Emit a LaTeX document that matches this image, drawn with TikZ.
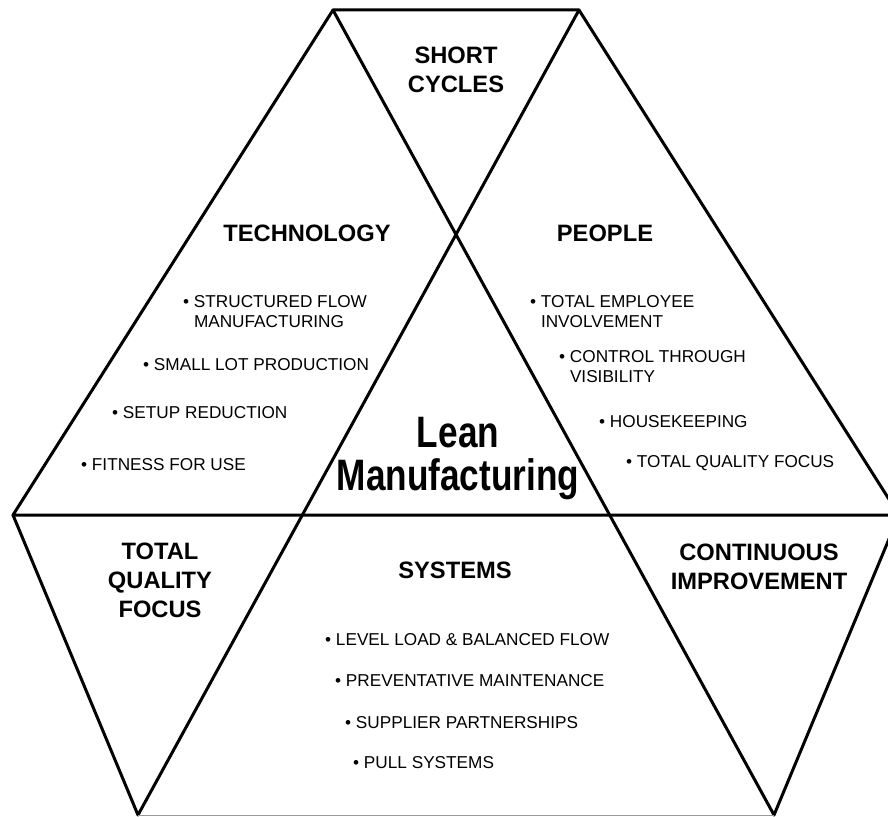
\documentclass[tikz,border=0pt]{standalone}
\usepackage{fontspec}
\setmainfont{Liberation Sans}
\newfontfamily\leanfont[FakeStretch=0.8]{Liberation Sans Bold}
\newcommand{\itm}{\textbullet\ }
\newcommand{\ind}{\phantom{\textbullet\ }}
\tikzset{
	frameline/.style={line width=3pt, line cap=round, line join=round},
	heading/.style={font=\fontsize{23.7}{29}\selectfont\bfseries, align=center, inner sep=0},
	item/.style={font=\fontsize{17.2}{20}\selectfont, align=left, anchor=west, inner sep=0},
	bigtitle/.style={font=\fontsize{44}{43}\selectfont\leanfont, anchor=base, inner sep=0}
}

\begin{document}
\begin{tikzpicture}[x=1pt, y=-1pt]
			%%%%% START %%%%%
			\useasboundingbox (0, 0) rectangle (888, 816);
			\clip (0, 0) rectangle (888, 816);
			
			\coordinate (topl) at (333, 10);
			\coordinate (topr) at (579, 10);
			\coordinate (left) at (13, 515);
			\coordinate (right) at (899, 515);
			\coordinate (botl) at (138, 815);
			\coordinate (botr) at (774, 815);
			
			\draw[frameline] (topl) -- (topr) -- (right) -- (left) -- cycle;
			\draw[frameline] (topl) -- (botr);
			\draw[frameline] (topr) -- (botl);
			\draw[frameline] (left) -- (botl);
			\draw[frameline] (right) -- (botr);
			\draw[line width=1pt, color=black!40] (botl) -- (botr);
			
			\node[heading] (short) at (456, 70) {SHORT\\CYCLES};
			\node[heading] (technology) at (307, 233) {TECHNOLOGY};
			\node[heading] (people) at (605, 233) {PEOPLE};
			\node[heading] (tqf) at (160, 580) {TOTAL\\QUALITY\\FOCUS};
			\node[heading] (systems) at (455, 570) {SYSTEMS};
			\node[heading] (ci) at (759, 567) {CONTINUOUS\\IMPROVEMENT};
			
			\node[bigtitle] (lean) at (458, 447) {Lean};
			\node[bigtitle] (manuf) at (458, 490) {Manufacturing};
			
			% technology
			\node[item] (flow) at (183, 312) {\itm STRUCTURED FLOW\\\ind MANUFACTURING};
			\node[item] (lot) at (143, 365) {\itm SMALL LOT PRODUCTION};
			\node[item] (setup) at (112, 413) {\itm SETUP REDUCTION};
			\node[item] (fitness) at (81, 465) {\itm FITNESS FOR USE};
			
			% people
			\node[item] (employee) at (530, 312) {\itm TOTAL EMPLOYEE\\\ind INVOLVEMENT};
			\node[item] (control) at (559, 367) {\itm CONTROL THROUGH\\\ind VISIBILITY};
			\node[item] (housekeeping) at (599, 422) {\itm HOUSEKEEPING};
			\node[item] (quality) at (626, 463) {\itm TOTAL QUALITY FOCUS};
			
			% systems
			\node[item] (level) at (325, 640) {\itm LEVEL LOAD \& BALANCED FLOW};
			\node[item] (maint) at (335, 681) {\itm PREVENTATIVE MAINTENANCE};
			\node[item] (supplier) at (345, 723) {\itm SUPPLIER PARTNERSHIPS};
			\node[item] (pull) at (353, 763) {\itm PULL SYSTEMS};
			
			%%%%% END %%%%%
\end{tikzpicture}
\end{document}
